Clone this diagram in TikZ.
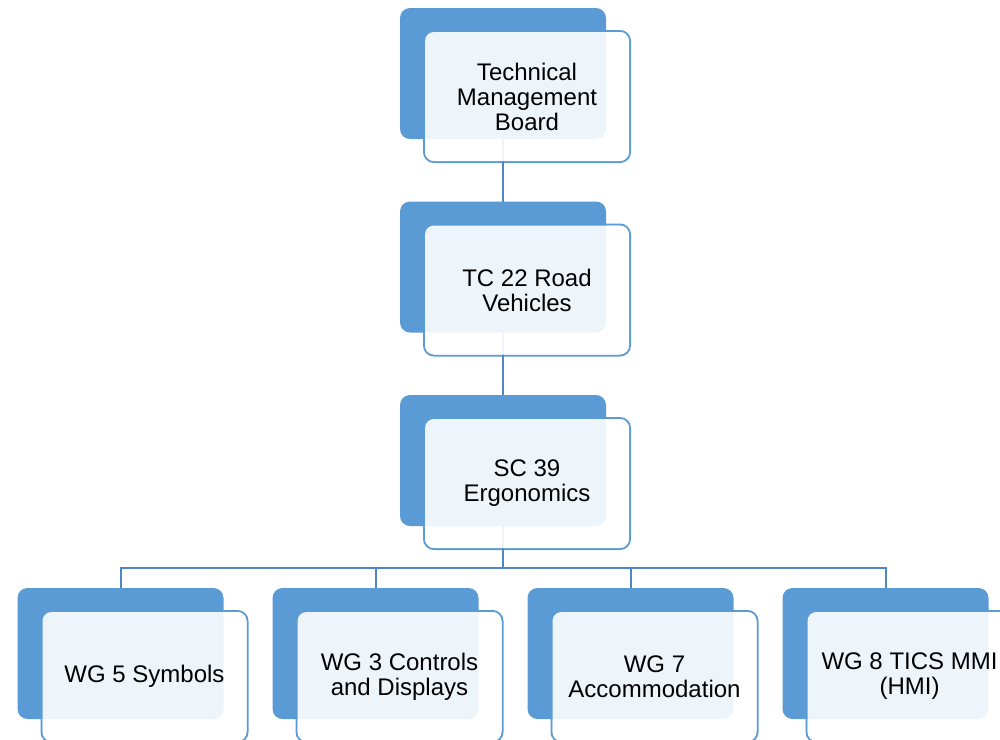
\documentclass[tikz,border=0pt]{standalone}
\usepackage{fontspec}
\setmainfont{Liberation Sans}
\usetikzlibrary{calc}
\definecolor{accent}{HTML}{5B9BD5}
\definecolor{linkblue}{HTML}{4F86C6}
\begin{document}
\begin{tikzpicture}[x=1pt,y=-1pt,
  backbox/.style={rectangle, rounded corners=10pt, fill=accent, minimum width=206pt, minimum height=131pt, inner sep=0pt, outer sep=0pt},
  frontframe/.style={rectangle, rounded corners=10pt, draw=accent, line width=2pt, fill=white, minimum width=206pt, minimum height=131pt, inner sep=0pt, outer sep=0pt},
  frontfill/.style={fill=white, fill opacity=0.9, rounded corners=9pt},
  boxtext/.style={align=center, font=\fontsize{24}{25}\selectfont, inner sep=0pt, text=black},
  link/.style={draw=linkblue, line width=2pt}]
\useasboundingbox (0,0) rectangle (1000,739);
\clip (0,0) rectangle (1000,739);

% front frames (drawn first, partly hidden by back boxes)
\node[frontframe] (f1) at (527,96.5) {};
\node[frontframe] (f2) at (527,290) {};
\node[frontframe] (f3) at (527,483.5) {};
\node[frontframe] (f4) at (144.5,676.5) {};
\node[frontframe] (f5) at (399.5,676.5) {};
\node[frontframe] (f6) at (654.5,676.5) {};
\node[frontframe] (f7) at (909.5,676.5) {};

% back boxes
\node[backbox] (b1) at (503,73.5) {};
\node[backbox] (b2) at (503,267) {};
\node[backbox] (b3) at (503,460.5) {};
\node[backbox] (c1) at (120.5,653.5) {};
\node[backbox] (c2) at (375.5,653.5) {};
\node[backbox] (c3) at (630.5,653.5) {};
\node[backbox] (c4) at (885.5,653.5) {};

% connectors
\coordinate (bus) at (503,568);
\draw[link] (b1.south) -- (b2.north);
\draw[link] (b2.south) -- (b3.north);
\draw[link] (b3.south) -- (b3.south |- bus) -| (c1.north);
\draw[link] (b3.south |- bus) -| (c2.north);
\draw[link] (b3.south |- bus) -| (c3.north);
\draw[link] (b3.south |- bus) -| (c4.north);

% translucent front fills
\foreach \f in {f1,f2,f3,f4,f5,f6,f7}{
  \fill[frontfill] ($(\f.north west)+(1,1)$) rectangle ($(\f.south east)+(-1,-1)$);
}

% texts
\node[boxtext] (t1) at (f1.center) {Technical\\Management\\Board};
\node[boxtext] (t2) at (f2.center) {TC 22 Road\\Vehicles};
\node[boxtext] (t3) at (f3.center) {SC 39\\Ergonomics};
\node[boxtext] (t4) at (f4.center) {WG 5 Symbols};
\node[boxtext] (t5) at (f5.center) {WG 3 Controls\\and Displays};
\node[boxtext] (t6) at (f6.center) {WG 7\\Accommodation};
\node[boxtext] (t7) at (f7.center) {WG 8 TICS MMI\\(HMI)};
\end{tikzpicture}
\end{document}
